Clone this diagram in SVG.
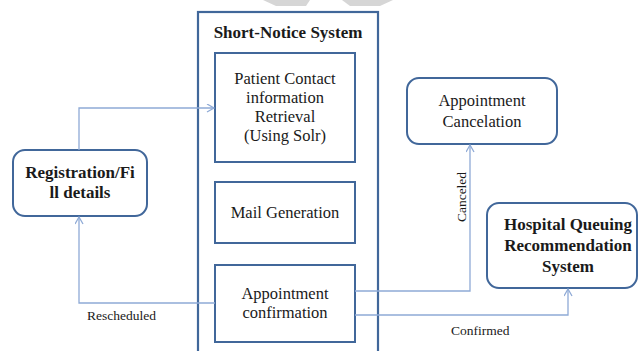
<svg xmlns="http://www.w3.org/2000/svg" width="639" height="351" viewBox="0 0 639 351">
<defs>
<style>
.box{fill:#fff;stroke:#41679a;stroke-width:2}
.outer{fill:#fff;stroke:#41679a;stroke-width:2.2}
.t{font-family:"Liberation Serif","Times New Roman",serif;font-size:16.5px;fill:#1a1a1a;text-anchor:middle}
.b{font-weight:bold;font-size:17px}
.lbl{font-family:"Liberation Serif","Times New Roman",serif;font-size:13.5px;fill:#1a1a1a}
.c{fill:none;stroke:#8faad6;stroke-width:1.3}
.wm{fill:#d6d6d6}
</style>
<marker id="ah" markerWidth="10" markerHeight="10" refX="8" refY="4" orient="auto" markerUnits="userSpaceOnUse">
<path d="M1,0 L8,4 L1,8" fill="none" stroke="#8faad6" stroke-width="1.3"/>
</marker>
</defs>
<rect width="639" height="351" fill="#fff"/>
<polygon class="wm" points="263,0 310,0 306,6 276,6"/>
<polygon class="wm" points="342,0 393,0 380,6 350,6"/>

<g id="short-notice-system">
<rect class="outer" x="198" y="12" width="180" height="350"/>
<text class="t b" x="288" y="38">Short-Notice System</text>
</g>

<g id="patient-contact">
<rect class="box" x="215" y="53" width="140" height="109"/>
<text class="t" x="285" y="84">Patient Contact</text>
<text class="t" x="285" y="103">information</text>
<text class="t" x="285" y="122">Retrieval</text>
<text class="t" x="285" y="141">(Using Solr)</text>
</g>

<g id="mail-generation">
<rect class="box" x="215" y="182" width="140" height="61"/>
<text class="t" x="285" y="218">Mail Generation</text>
</g>

<g id="appointment-confirmation">
<rect class="box" x="215" y="265" width="140" height="77"/>
<text class="t" x="285" y="299">Appointment</text>
<text class="t" x="285" y="318">confirmation</text>
</g>

<g id="registration">
<rect class="box" x="13" y="150" width="134" height="66" rx="12"/>
<text class="t b" x="80" y="178">Registration/Fi</text>
<text class="t b" x="80" y="198">ll details</text>
</g>

<g id="appointment-cancelation">
<rect class="box" x="407" y="78" width="150" height="66" rx="12"/>
<text class="t" x="482" y="106">Appointment</text>
<text class="t" x="482" y="127">Cancelation</text>
</g>

<g id="hospital-queuing">
<rect class="box" x="487" y="203" width="150" height="85" rx="12"/>
<text class="t b" x="568" y="230">Hospital Queuing</text>
<text class="t b" x="568" y="251">Recommendation</text>
<text class="t b" x="568" y="272">System</text>
</g>

<g id="connectors">
<path class="c" d="M79,150 V108 H214" marker-end="url(#ah)"/>
<path class="c" d="M215,303 H79 V217" marker-end="url(#ah)"/>
<path class="c" d="M355,291 H470 V145" marker-end="url(#ah)"/>
<path class="c" d="M355,315 H568 V289" marker-end="url(#ah)"/>
<text class="lbl" x="87" y="320">Rescheduled</text>
<text class="lbl" x="451" y="335">Confirmed</text>
<text class="lbl" transform="translate(466,197) rotate(-90)" text-anchor="middle">Canceled</text>
</g>
</svg>
